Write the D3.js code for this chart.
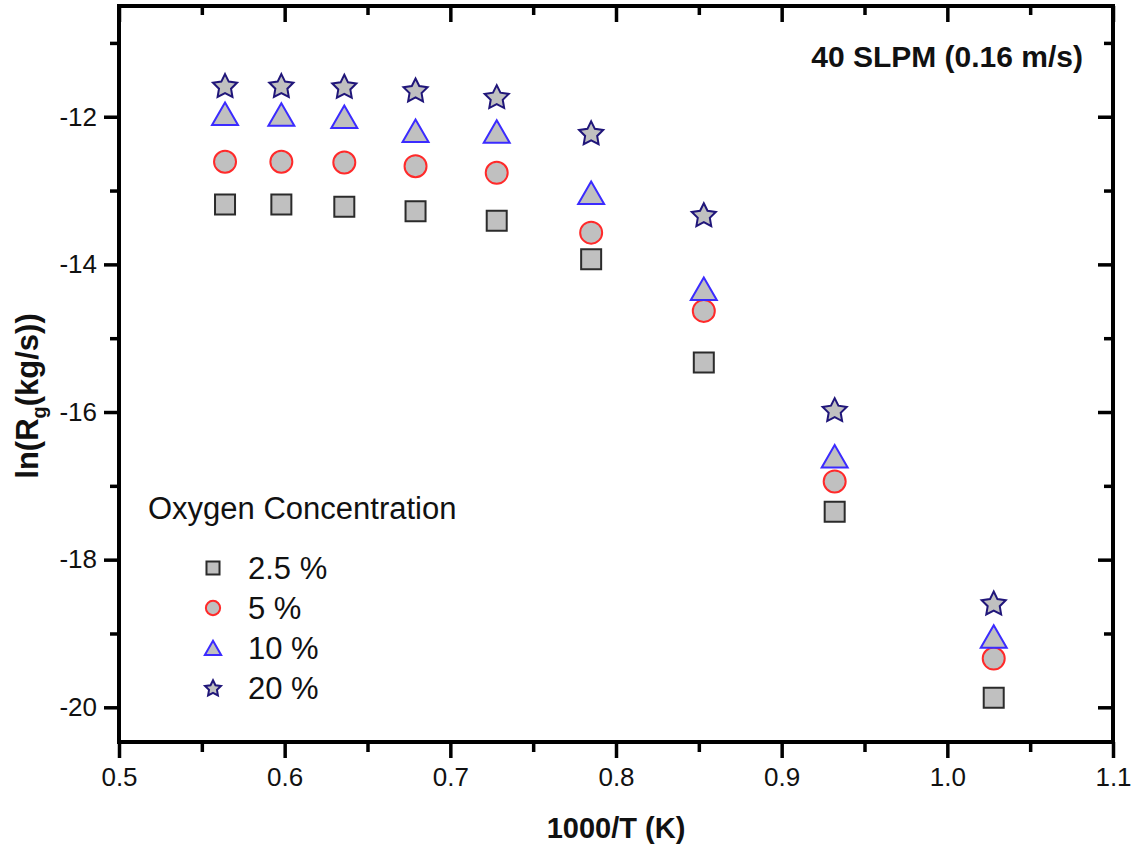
<!DOCTYPE html>
<html>
<head>
<meta charset="utf-8">
<script src="https://cdn.jsdelivr.net/npm/d3@7"></script>
<style>
  body { margin: 0; background: #ffffff; }
  svg text { font-family: "Liberation Sans", Arial, sans-serif; }
</style>
</head>
<body>
<div id="chart-container"></div>
<script>
const width = 1135;
const height = 850;
const marginTop = 6;
const marginRight = 22;
const marginBottom = 108;
const marginLeft = 119;

// 1000/T values
const invT = [0.564, 0.598, 0.636, 0.679, 0.728, 0.785, 0.853, 0.932, 1.028];

// ln(Rg) for each oxygen concentration
const o2_2_5 = [-13.19, -13.19, -13.22, -13.28, -13.41, -13.93, -15.33, -17.35, -19.87];
const o2_5   = [-12.61, -12.61, -12.62, -12.67, -12.76, -13.57, -14.63, -16.94, -19.34];
const o2_10  = [-11.96, -11.97, -12.00, -12.19, -12.20, -13.03, -14.33, -16.60, -19.04];
const o2_20  = [-11.58, -11.58, -11.59, -11.64, -11.73, -12.22, -13.33, -15.97, -18.59];

const seriesNames = ["2.5 %", "5 %", "10 %", "20 %"];
const xTicks = [0.5, 0.6, 0.7, 0.8, 0.9, 1.0, 1.1];
const yTicks = [-20, -18, -16, -14, -12];

// fatter star than d3.symbolStar (size = outer radius squared)
const fatStar = {
  draw(context, size) {
    const R = Math.sqrt(size), r = R * 0.5;
    for (let i = 0; i < 10; i++) {
      const a = -Math.PI / 2 + i * Math.PI / 5;
      const rad = i % 2 ? r : R;
      if (i === 0) context.moveTo(rad * Math.cos(a), rad * Math.sin(a));
      else context.lineTo(rad * Math.cos(a), rad * Math.sin(a));
    }
    context.closePath();
  }
};

const series = [
  {name: seriesNames[0], values: o2_2_5, type: d3.symbolSquare, size: 400, legendSize: 170, stroke: "#2b2b2b", dy: 0},
  {name: seriesNames[1], values: o2_5, type: d3.symbolCircle, size: 380, legendSize: 160, stroke: "#ff2a2a", dy: 0},
  {name: seriesNames[2], values: o2_10, type: d3.symbolTriangle, size: 292, legendSize: 115, stroke: "#3b2bff", dy: 3.75},
  {name: seriesNames[3], values: o2_20, type: fatStar, size: 160, legendSize: 70, stroke: "#20167a", dy: 1}
];

const svg = d3.select("#chart-container")
    .append("svg")
    .attr("width", width)
    .attr("height", height)
    .style("background-color", "#ffffff");

const x = d3.scaleLinear()
    .domain([0.5, 1.1])
    .range([marginLeft, width - marginRight]);

const y = d3.scaleLinear()
    .domain([-20.47, -10.5])
    .range([height - marginBottom, marginTop]);

const xMinor = d3.range(0.55, 1.1, 0.1);
const yMinor = [-19, -17, -15, -13, -11];

function styleAxis(g) {
  g.select(".domain").remove();
  g.selectAll("line").attr("stroke", "#000").attr("stroke-width", 3.5);
  g.selectAll("text").attr("fill", "#111").attr("font-size", "26px");
}

// bottom axis
svg.append("g")
    .attr("transform", `translate(0,${height - marginBottom})`)
    .call(d3.axisBottom(x).tickValues(xTicks).tickFormat(d3.format(".1f")).tickSize(16).tickPadding(10))
    .call(styleAxis);
svg.append("g")
    .attr("transform", `translate(0,${height - marginBottom})`)
    .call(d3.axisBottom(x).tickValues(xMinor).tickFormat("").tickSize(10))
    .call(styleAxis);

// top axis (ticks inward)
svg.append("g")
    .attr("transform", `translate(0,${marginTop})`)
    .call(d3.axisBottom(x).tickValues(xTicks).tickFormat("").tickSize(16))
    .call(styleAxis);
svg.append("g")
    .attr("transform", `translate(0,${marginTop})`)
    .call(d3.axisBottom(x).tickValues(xMinor).tickFormat("").tickSize(9))
    .call(styleAxis);

// left axis
svg.append("g")
    .attr("transform", `translate(${marginLeft},0)`)
    .call(d3.axisLeft(y).tickValues(yTicks).tickFormat(d => String(d)).tickSize(15).tickPadding(7))
    .call(styleAxis);
svg.append("g")
    .attr("transform", `translate(${marginLeft},0)`)
    .call(d3.axisLeft(y).tickValues(yMinor).tickFormat("").tickSize(9))
    .call(styleAxis);

// right axis (ticks inward)
svg.append("g")
    .attr("transform", `translate(${width - marginRight},0)`)
    .call(d3.axisLeft(y).tickValues(yTicks).tickFormat("").tickSize(15))
    .call(styleAxis);
svg.append("g")
    .attr("transform", `translate(${width - marginRight},0)`)
    .call(d3.axisLeft(y).tickValues(yMinor).tickFormat("").tickSize(9))
    .call(styleAxis);

// frame
svg.append("rect")
    .attr("x", marginLeft)
    .attr("y", marginTop)
    .attr("width", width - marginRight - marginLeft)
    .attr("height", height - marginBottom - marginTop)
    .attr("fill", "none")
    .attr("stroke", "#000")
    .attr("stroke-width", 4);

// points
series.forEach(s => {
  svg.append("g")
    .selectAll("path")
    .data(s.values)
    .join("path")
      .attr("transform", (d, i) => `translate(${x(invT[i])},${y(d) + s.dy})`)
      .attr("d", d3.symbol(s.type, s.size))
      .attr("fill", "#c0c0c0")
      .attr("stroke", s.stroke)
      .attr("stroke-width", 2);
});

// legend
svg.append("text")
    .attr("x", 148)
    .attr("y", 519)
    .attr("font-size", "31px")
    .attr("fill", "#111")
    .text("Oxygen Concentration");

const legend = svg.append("g")
    .selectAll("g")
    .data(series)
    .join("g")
      .attr("transform", (d, i) => `translate(213,${568 + i * 40})`);

legend.append("path")
    .attr("transform", d => `translate(0,${d.dy * 0.6})`)
    .attr("d", d => d3.symbol(d.type, d.legendSize)())
    .attr("fill", "#c0c0c0")
    .attr("stroke", d => d.stroke)
    .attr("stroke-width", 2);

legend.append("text")
    .attr("x", 35)
    .attr("y", 11)
    .attr("font-size", "31px")
    .attr("fill", "#111")
    .text(d => d.name);

// annotation
svg.append("text")
    .attr("x", 1083)
    .attr("y", 67)
    .attr("text-anchor", "end")
    .attr("font-size", "30px")
    .attr("font-weight", "bold")
    .attr("fill", "#111")
    .text("40 SLPM (0.16 m/s)");

// x axis label
svg.append("text")
    .attr("x", (marginLeft + width - marginRight) / 2)
    .attr("y", 838)
    .attr("text-anchor", "middle")
    .attr("font-size", "29px")
    .attr("font-weight", "bold")
    .attr("fill", "#111")
    .text("1000/T (K)");

// y axis label
const yLabel = svg.append("text")
    .attr("transform", `translate(38,396) rotate(-90)`)
    .attr("text-anchor", "middle")
    .attr("font-size", "31px")
    .attr("font-weight", "bold")
    .attr("fill", "#111");
yLabel.append("tspan").text("ln(R");
yLabel.append("tspan").attr("font-size", "20px").attr("dy", 8).text("g");
yLabel.append("tspan").attr("dy", -8).text("(kg/s))");
</script>
</body>
</html>
